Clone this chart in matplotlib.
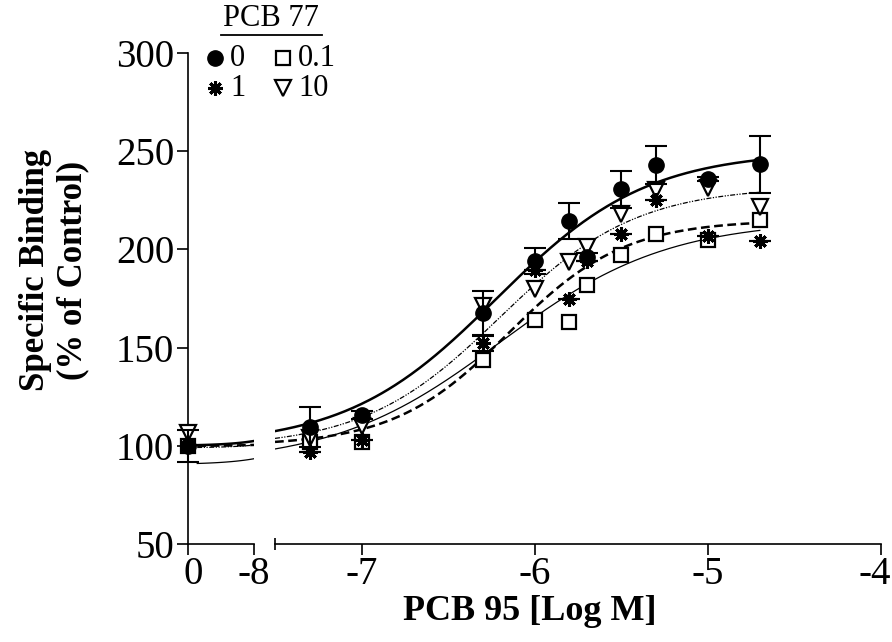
import numpy as np
import matplotlib
matplotlib.use("Agg")
import matplotlib.pyplot as plt
import matplotlib.transforms as mtransforms

# ---------------- data ----------------
log_conc = [-7.3, -7.0, -6.3, -6.0, -5.8, -5.7, -5.5, -5.3, -5.0, -4.7]
control_pos = -9.0   # plotting position of the "0" (no PCB 95) control

pcb77_labels = ["0", "0.1", "1", "10"]

ctrl_0 = 100.0
ctrl_0_err = 8.0
ctrl_0p1 = 100.0
ctrl_1 = 100.0
ctrl_10 = 106.5

vals_0 = [109.6, 115.7, 167.5, 194.0, 214.5, 196.0, 230.6, 243.0, 235.7, 243.3]
err_0 = [10.0, 2.0, 11.5, 6.7, 9.3, 2.0, 9.4, 9.6, 1.0, 14.4]
vals_0p1 = [102.0, 102.0, 143.7, 164.0, 162.9, 181.9, 197.0, 207.7, 204.8, 215.0]
vals_1 = [97.0, 103.0, 152.2, 189.5, 175.0, 194.0, 208.0, 225.0, 206.8, 204.3]
err_1 = [0.0, 0.0, 4.0, 0.0, 0.0, 0.0, 0.0, 0.0, 0.0, 0.0]
vals_10 = [104.0, 110.0, 171.0, 180.0, 193.7, 201.4, 218.0, 230.2, 231.2, 221.8]

# fitted sigmoid parameters (bottom, top, logEC50, hill)
fit_0 = (100.0, 250.0, -6.22, 1.0)
fit_0p1 = (90.5, 215.0, -6.20, 0.9)
fit_1 = (100.0, 215.0, -6.15, 1.3)
fit_10 = (99.0, 232.0, -6.20, 1.1)

yticks = [50, 100, 150, 200, 250, 300]
xticks_right = [-7, -6, -5, -4]
xticklabels_right = ["-7", "-6", "-5", "-4"]
xticks_left = [-9, -8]
xticklabels_left = ["0", "-8"]


def sigmoid(x, p):
    b, t, ec, h = p
    return b + (t - b) / (1 + 10 ** ((ec - x) * h))


# ---------------- figure ----------------
W, H = 892, 642
fig = plt.figure(figsize=(W / 100, H / 100), dpi=100)
serif = ["Liberation Serif", "DejaVu Serif"]
plt.rcParams["font.family"] = serif


def fx(px):
    return px / W


def fy(py):
    return 1 - py / H


y_top, y_bot = 53, 544
ax_l = fig.add_axes([fx(188), fy(y_bot), fx(254) - fx(188), fy(y_top) - fy(y_bot)])
ax_r = fig.add_axes([fx(275), fy(y_bot), fx(881) - fx(275), fy(y_top) - fy(y_bot)])

for ax in (ax_l, ax_r):
    ax.set_ylim(50, 300)
    ax.patch.set_visible(False)
    for s in ("top", "right"):
        ax.spines[s].set_visible(False)
    for s in ("left", "bottom"):
        ax.spines[s].set_linewidth(1.2)

ax_l.set_xlim(-9, -8)
ax_r.set_xlim(-7.5, -4)
ax_r.spines["left"].set_visible(False)
ax_r.tick_params(axis="y", left=False, labelleft=False)

ax_l.set_yticks(yticks)
ax_l.set_yticklabels([str(v) for v in yticks])
ax_l.tick_params(axis="y", direction="out", length=8, width=1.2, pad=2, labelsize=28)
ax_l.set_xticks(xticks_left)
ax_l.set_xticklabels(xticklabels_left)
ax_l.tick_params(axis="x", direction="out", length=8, width=1.2, pad=1, labelsize=28)
# nudge the "0" label a little right as in the reference
lab0 = ax_l.get_xticklabels()[0]
lab0.set_transform(lab0.get_transform() + mtransforms.ScaledTranslation(5 / 100, 0, fig.dpi_scale_trans))

ax_r.set_xticks(xticks_right)
ax_r.set_xticklabels(xticklabels_right)
ax_r.tick_params(axis="x", direction="out", length=8, width=1.2, pad=1, labelsize=28)
ax_r.set_xticks([-7.5], minor=True)
ax_r.tick_params(axis="x", which="minor", direction="inout", length=9, width=1.2)
# keep the last label inside the picture
lab4 = ax_r.get_xticklabels()[-1]
lab4.set_transform(lab4.get_transform() + mtransforms.ScaledTranslation(-6 / 100, 0, fig.dpi_scale_trans))

# ---------------- curves ----------------
styles = [
    dict(color="black", lw=1.8, ls="-"),                       # 0
    dict(color="black", lw=0.9, ls="-"),                       # 0.1
    dict(color="black", lw=1.8, ls=(0, (3.5, 1.8))),           # 1
    dict(color="black", lw=0.9, ls=(0, (4, 1.2, 1, 1.2, 1, 1.2))),  # 10
]
fits = [fit_0, fit_0p1, fit_1, fit_10]

xr = np.linspace(-7.5, log_conc[-1], 300)
xl = np.linspace(-8.86, -8.0, 60)
for p, st in zip(fits, styles):
    ax_r.plot(xr, sigmoid(xr, p), zorder=2, **st)
    ax_l.plot(xl, sigmoid(xl, p), zorder=2, **st)

# ---------------- markers ----------------
ms = 11
mk_0 = dict(marker="o", ms=ms, mfc="black", mec="black", mew=1.0)
mk_0p1 = dict(marker="s", ms=ms * 0.95, mfc="white", mec="black", mew=1.6)
mk_1 = dict(marker=(8, 2, 0), ms=ms * 0.95, mfc="black", mec="black", mew=2.2)
mk_10 = dict(marker="v", ms=ms * 1.05, mfc="white", mec="black", mew=1.6)

ekw = dict(ecolor="black", elinewidth=1.5, capsize=8, capthick=1.5, ls="none")


def draw(ax, x, y, err, mk, z):
    if err is not None:
        e = np.array(err, dtype=float)
        ax.errorbar(x, y, yerr=e, fmt="none", zorder=z, clip_on=False, **ekw)
    ax.plot(x, y, ls="none", zorder=z + 0.5, clip_on=False, **mk)


draw(ax_r, log_conc, vals_0p1, None, mk_0p1, 3)
draw(ax_r, log_conc, vals_10, None, mk_10, 4)
draw(ax_r, log_conc, vals_1, err_1, mk_1, 5)
draw(ax_r, log_conc, vals_0, err_0, mk_0, 6)

draw(ax_l, [control_pos], [ctrl_0p1], None, mk_0p1, 3)
draw(ax_l, [control_pos], [ctrl_10], None, mk_10, 4)
draw(ax_l, [control_pos], [ctrl_1], None, mk_1, 5)
draw(ax_l, [control_pos], [ctrl_0], [ctrl_0_err], mk_0, 6)

# ---------------- labels ----------------
fig.text(fx(530), fy(612), "PCB 95 [Log M]", ha="center", va="center",
         fontsize=26, fontweight="bold")
fig.text(fx(54), fy(270), "Specific Binding\n(% of Control)", ha="center", va="center",
         rotation=90, fontsize=25, fontweight="bold", linespacing=1.15, multialignment="center")

# ---------------- legend ----------------
ov = fig.add_axes([0, 0, 1, 1], zorder=10)
ov.set_xlim(0, W)
ov.set_ylim(H, 0)
ov.axis("off")
ov.text(271, 19, "PCB 77", ha="center", va="center", fontsize=22)
ov.plot([221, 322], [35, 35], color="black", lw=1.3)
rows = [(58, [(mk_0, pcb77_labels[0]), (mk_0p1, pcb77_labels[1])]),
        (88, [(mk_1, pcb77_labels[2]), (mk_10, pcb77_labels[3])])]
for yy, items in rows:
    for (mk, lab), xm in zip(items, (215, 283)):
        ov.plot([xm], [yy], ls="none", **mk)
        ov.text(xm + 15, yy + 1, lab, ha="left", va="center", fontsize=22)

fig.savefig("out.png", dpi=100)
